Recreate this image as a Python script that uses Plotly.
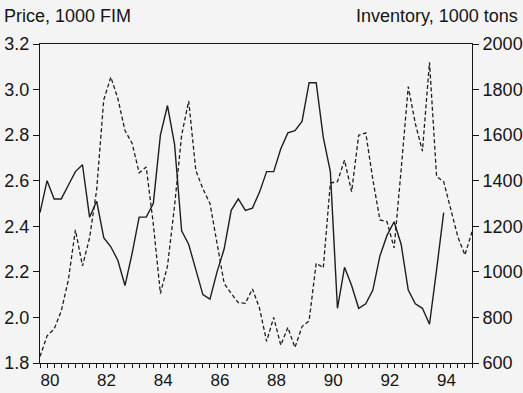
import plotly.graph_objects as go

# Quarterly data, 1980Q1 onward
start_year = 1980
price = [2.46, 2.60, 2.52, 2.52, 2.58, 2.64, 2.67, 2.44, 2.51, 2.35, 2.31, 2.25,
         2.14, 2.28, 2.44, 2.44, 2.50, 2.80, 2.93, 2.76, 2.38, 2.32, 2.21, 2.10,
         2.08, 2.20, 2.30, 2.47, 2.52, 2.47, 2.48, 2.55, 2.64, 2.64, 2.74, 2.81,
         2.82, 2.86, 3.03, 3.03, 2.79, 2.64, 2.04, 2.22, 2.14, 2.04, 2.06, 2.12,
         2.27, 2.36, 2.42, 2.32, 2.12, 2.06, 2.04, 1.97, 2.21, 2.46]
inventory = [628, 719, 749, 828, 964, 1184, 1026, 1149, 1360, 1755, 1855, 1760,
             1620, 1565, 1435, 1460, 1210, 905, 1025, 1290, 1600, 1750, 1445, 1365,
             1300, 1125, 950, 905, 865, 862, 925, 840, 695, 800, 678, 756,
             668, 760, 785, 1038, 1018, 1390, 1396, 1490, 1352, 1600, 1610, 1405,
             1228, 1220, 1105, 1450, 1813, 1650, 1530, 1920, 1418, 1396, 1275, 1154,
             1074, 1176]
year_labels = ["80", "82", "84", "86", "88", "90", "92", "94"]

x_price = [start_year + i / 4 for i in range(len(price))]
x_inv = [start_year + i / 4 for i in range(len(inventory))]
tick_pos = [start_year + 0.35 + 2 * k for k in range(len(year_labels))]
x_range = [start_year, start_year + (len(inventory) - 1) / 4]

FONT = "Liberation Sans, Arial, sans-serif"
INK = "#151515"
BG = "#f4f4f4"
FS = 18

fig = go.Figure()
fig.add_trace(go.Scatter(x=x_price, y=price, mode="lines", xaxis="x", yaxis="y",
                         line=dict(color="#1e1e1e", width=1.4), showlegend=False))
fig.add_trace(go.Scatter(x=x_inv, y=inventory, mode="lines", xaxis="x", yaxis="y2",
                         line=dict(color="#1e1e1e", width=1.3, dash="4px,2.5px"),
                         showlegend=False))
# helper trace so the quarterly tick axis is drawn (invisible)
fig.add_trace(go.Scatter(x=x_inv, y=inventory, mode="lines", xaxis="x2", yaxis="y2",
                         line=dict(color="rgba(0,0,0,0)", width=0), hoverinfo="skip",
                         showlegend=False))

fig.update_layout(
    width=523, height=393,
    margin=dict(l=40, r=51, t=44, b=30),
    paper_bgcolor=BG, plot_bgcolor=BG,
    font=dict(family=FONT, size=FS, color=INK),
    xaxis=dict(
        range=x_range, automargin=False,
        tickmode="array", tickvals=tick_pos, ticktext=year_labels,
        ticks="outside", ticklen=2, tickcolor="rgba(0,0,0,0)",
        showgrid=False, zeroline=False,
        showline=True, linecolor=INK, linewidth=1, mirror=True,
        tickfont=dict(size=17, color=INK),
    ),
    xaxis2=dict(
        range=x_range, overlaying="x", side="bottom", anchor="y",
        automargin=False,
        tickmode="linear", tick0=start_year, dtick=0.25,
        ticks="outside", ticklen=4, tickcolor=INK, tickwidth=1,
        showticklabels=False, showgrid=False, zeroline=False, showline=False,
    ),
    yaxis=dict(
        range=[1.8, 3.2], dtick=0.2, tick0=1.8, tickformat=".1f",
        automargin=False,
        ticks="outside", ticklen=6, tickcolor=INK, tickwidth=1,
        showgrid=False, zeroline=False,
        showline=True, linecolor=INK, linewidth=1,
        tickfont=dict(size=FS, color=INK),
    ),
    yaxis2=dict(
        range=[600, 2000], dtick=200, tick0=600,
        overlaying="y", side="right", anchor="x", automargin=False,
        ticks="outside", ticklen=6, tickcolor=INK, tickwidth=1,
        showgrid=False, zeroline=False,
        showline=True, linecolor=INK, linewidth=1,
        tickfont=dict(size=FS, color=INK),
    ),
    annotations=[
        dict(text="Price, 1000 FIM", xref="paper", yref="paper",
             x=-38 / 432, y=1 + 28 / 319, xanchor="left", yanchor="middle",
             showarrow=False, font=dict(size=FS, color=INK)),
        dict(text="Inventory, 1000 tons", xref="paper", yref="paper",
             x=1 + 48 / 432, y=1 + 28 / 319, xanchor="right", yanchor="middle",
             showarrow=False, font=dict(size=FS, color=INK)),
    ],
)

fig.write_html("out.html",
               config={"displayModeBar": False, "staticPlot": True},
               post_script="document.body.style.margin='0px';"
                           "document.body.style.background='%s';" % BG)
